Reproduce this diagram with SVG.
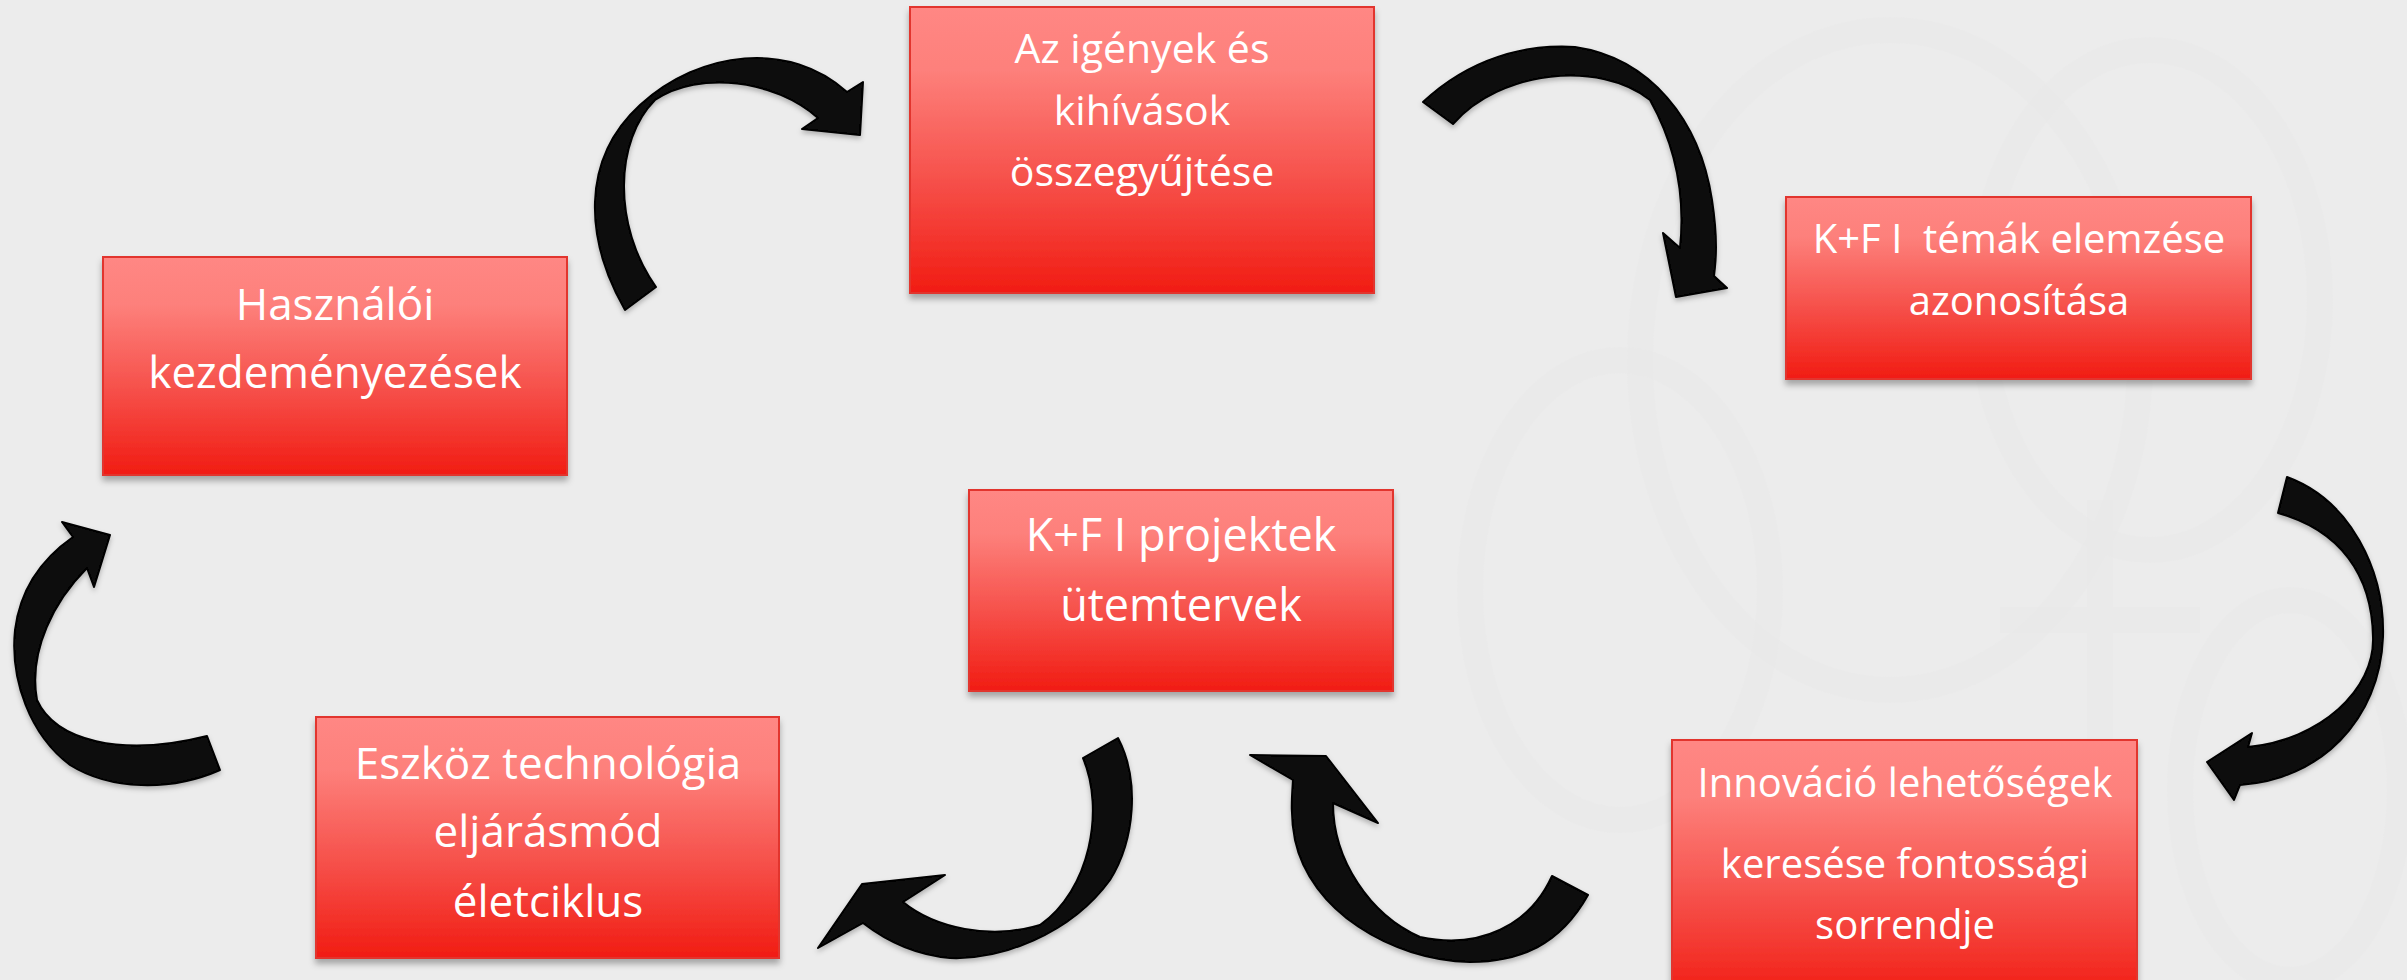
<svg xmlns="http://www.w3.org/2000/svg" width="2407" height="980" viewBox="0 0 2407 980">
<defs>
<linearGradient id="boxGrad" x1="0" y1="0" x2="0" y2="1">
<stop offset="0" stop-color="#ff8784"/>
<stop offset="0.22" stop-color="#fd807b"/>
<stop offset="0.6" stop-color="#f6514b"/>
<stop offset="1" stop-color="#f11c13"/>
</linearGradient>
<filter id="boxShadow" x="-5%" y="-5%" width="110%" height="115%">
<feDropShadow dx="0" dy="5" stdDeviation="3" flood-color="#000" flood-opacity="0.3"/>
</filter>
<filter id="arrowShadow" x="-10%" y="-10%" width="120%" height="125%">
<feDropShadow dx="0" dy="3" stdDeviation="2.5" flood-color="#000" flood-opacity="0.25"/>
</filter>
</defs>
<style>
.box{fill:url(#boxGrad);stroke:#e2352e;stroke-width:2;filter:url(#boxShadow)}
.lbl{font-family:"Open Sans","Noto Sans","Liberation Sans",sans-serif;fill:#ffffff;text-anchor:middle}
.arrow{fill:#0b0b0b;stroke:#000;stroke-width:2;stroke-linejoin:round;filter:url(#arrowShadow)}
.wm{fill:none;stroke:#e8e8e8;stroke-width:26;opacity:0.45}
</style>
<rect x="0" y="0" width="2407" height="980" fill="#ececec"/>
<g id="watermark">
<ellipse class="wm" cx="1890" cy="360" rx="250" ry="330"/>
<ellipse class="wm" cx="1620" cy="590" rx="150" ry="230"/>
<ellipse class="wm" cx="2150" cy="300" rx="170" ry="250"/>
<path class="wm" d="M2100 500 L2100 980 M2000 620 L2200 620"/>
<ellipse class="wm" cx="2290" cy="790" rx="110" ry="190"/>
</g>
<g id="connectors">
<path id="arrow-a" class="arrow" d="M625,310 C585,240 580,160 640,105 C700,50 790,40 847,92 L863,82 L860,135 L802,129 L818,118 C775,80 700,70 655,100 C615,140 612,225 656,287 Z"/>
<path id="arrow-b" class="arrow" d="M1423,102 C1470,58 1525,44 1575,47 C1650,58 1700,120 1712,200 C1718,240 1716,260 1714,276 L1727,288 L1676,297 L1663,233 L1680,248 C1685,200 1678,150 1650,100 C1600,60 1500,70 1453,124 Z"/>
<path id="arrow-c" class="arrow" d="M2287,477 C2350,500 2385,570 2383,637 C2380,720 2320,780 2240,785 L2234,800 L2207,762 L2252,733 L2248,747 C2320,740 2375,690 2373,637 C2372,575 2340,530 2278,513 Z"/>
<path id="arrow-d" class="arrow" d="M1588,895 C1560,945 1520,962 1470,962 C1390,960 1310,910 1295,840 C1290,815 1292,795 1293,780 L1250,755 L1326,756 L1378,823 L1333,803 C1333,860 1370,915 1420,937 C1480,950 1530,925 1552,876 Z"/>
<path id="arrow-e" class="arrow" d="M1118,738 C1140,780 1135,840 1110,880 C1070,935 1000,960 950,958 C915,955 885,940 863,923 L818,948 L862,884 L945,875 L903,902 C935,928 990,940 1040,925 C1090,890 1105,810 1083,758 Z"/>
<path id="arrow-f" class="arrow" d="M220,770 C170,792 110,790 70,765 C30,735 10,680 15,630 C20,590 40,560 73,537 L62,522 L110,535 L94,587 L87,568 C55,600 28,650 37,700 C55,740 120,758 207,736 Z"/>
</g>
<g id="node-igenyek">
<rect class="box" x="910" y="7" width="464" height="286"/>
<text class="lbl" font-size="41"><tspan x="1142" y="63">Az igények és</tspan><tspan x="1142" y="125">kihívások</tspan><tspan x="1142" y="186">összegyűjtése</tspan></text>
</g>
<g id="node-temak">
<rect class="box" x="1786" y="197" width="465" height="182"/>
<text class="lbl" font-size="40"><tspan x="2019" y="253">K+F I&#160; témák elemzése</tspan><tspan x="2019" y="315">azonosítása</tspan></text>
</g>
<g id="node-hasznaloi">
<rect class="box" x="103" y="257" width="464" height="218"/>
<text class="lbl" font-size="44"><tspan x="335" y="320">Használói</tspan><tspan x="335" y="388">kezdeményezések</tspan></text>
</g>
<g id="node-projektek">
<rect class="box" x="969" y="490" width="424" height="201"/>
<text class="lbl" font-size="45"><tspan x="1181" y="551">K+F I projektek</tspan><tspan x="1181" y="621">ütemtervek</tspan></text>
</g>
<g id="node-eszkoz">
<rect class="box" x="316" y="717" width="463" height="241"/>
<text class="lbl" font-size="44"><tspan x="548" y="779">Eszköz technológia</tspan><tspan x="548" y="847">eljárásmód</tspan><tspan x="548" y="917">életciklus</tspan></text>
</g>
<g id="node-innovacio">
<rect class="box" x="1672" y="740" width="465" height="260"/>
<text class="lbl" font-size="40"><tspan x="1905" y="797">Innováció lehetőségek</tspan><tspan x="1905" y="878">keresése fontossági</tspan><tspan x="1905" y="939">sorrendje</tspan></text>
</g>
</svg>
